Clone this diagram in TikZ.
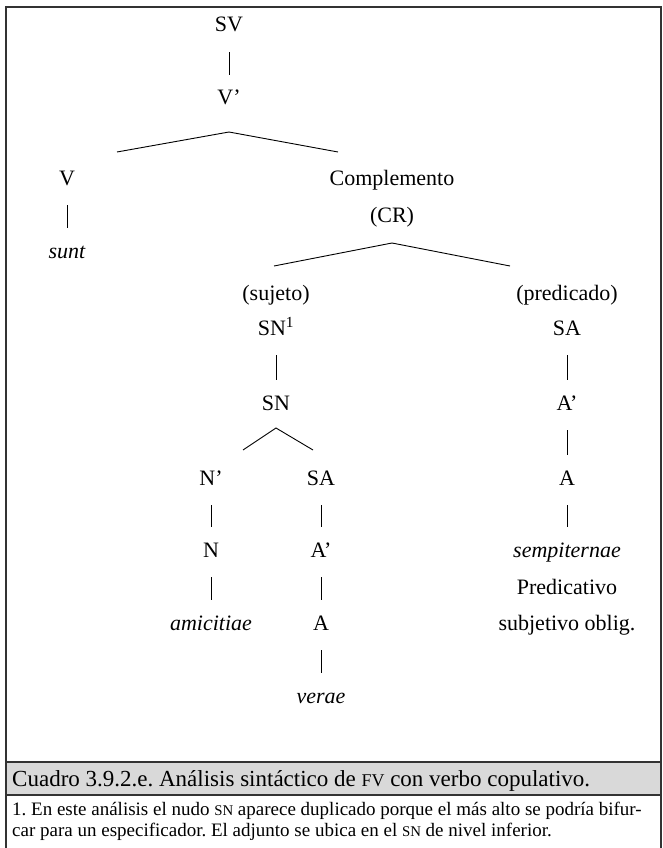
\documentclass[tikz,border=0pt]{standalone}
\usepackage{fontspec}
\usepackage{graphicx}
\setmainfont{Liberation Serif}
\newcommand{\smc}[1]{\scalebox{0.78}{#1}}
\definecolor{capgray}{HTML}{D9D9D9}
\definecolor{framegray}{HTML}{333333}
\frenchspacing
\begin{document}
\begin{tikzpicture}[x=1pt,y=-1pt,
  tn/.style={font=\fontsize{22}{26}\selectfont, inner sep=0pt, text height=15pt, text depth=5pt, minimum height=50pt},
  tl/.style={line width=0.9pt, black},
  br/.style={line width=0.9pt, black}]
\useasboundingbox (0,0) rectangle (662,848);
% frame
\draw[framegray, line width=1.4pt] (6,848) -- (6,7) -- (661,7) -- (661,848);
\draw[framegray, line width=1.2pt, fill=capgray] (6,762) rectangle (661,795);
\node[anchor=base west, inner sep=0pt, font=\fontsize{23}{27}\selectfont] (cap) at (12,786)
  {Cuadro 3.9.2.e. Análisis sintáctico de \smc{FV} con verbo copulativo.};
\node[anchor=base west, inner sep=0pt, font=\fontsize{19}{22}\selectfont, align=left] (fn1) at (12,815)
  {1. En este análisis el nudo \smc{SN} aparece duplicado porque el más alto se podría bifur-};
\node[anchor=base west, inner sep=0pt, font=\fontsize{19}{22}\selectfont, align=left] (fn2) at (12,836)
  {car para un especificador. El adjunto se ubica en el \smc{SN} de nivel inferior.};
% tree nodes
\node[tn] (sv) at (229,27) {SV};
\node[tn] (vp) at (229,100) {V’};
\node[tn] (v) at (67,180) {V};
\node[tn] (sunt) at (67,253) {\itshape sunt};
\node[tn] (comp) at (392,180) {Complemento};
\node[tn] (cr) at (392,217) {(CR)};
\node[tn] (suj) at (276,295) {(sujeto)};
\node[tn] (sn1) at (276,330) {SN\textsuperscript{1}};
\node[tn] (sn) at (276,405) {SN};
\node[tn] (np) at (211,480) {N’};
\node[tn] (n) at (211,552) {N};
\node[tn] (amic) at (211,625) {\itshape amicitiae};
\node[tn] (sa) at (321,480) {SA};
\node[tn] (ap) at (321,552) {A’};
\node[tn] (a) at (321,625) {A};
\node[tn] (verae) at (321,698) {\itshape verae};
\node[tn] (pred) at (567,295) {(predicado)};
\node[tn] (sa2) at (567,330) {SA};
\node[tn] (ap2) at (567,405) {A’};
\node[tn] (a2) at (567,480) {A};
\node[tn] (semp) at (567,552) {\itshape sempiternae};
\node[tn] (predic) at (567,589) {Predicativo};
\node[tn] (subj) at (567,625) {subjetivo oblig.};
% unary connectors
\draw[tl] (sv) -- (vp);
\draw[tl] (v) -- (sunt);
\draw[tl] (sn1) -- (sn);
\draw[tl] (np) -- (n);
\draw[tl] (n) -- (amic);
\draw[tl] (sa) -- (ap);
\draw[tl] (ap) -- (a);
\draw[tl] (a) -- (verae);
\draw[tl] (sa2) -- (ap2);
\draw[tl] (ap2) -- (a2);
\draw[tl] (a2) -- (semp);
% branching
\coordinate (b1) at (229,132);
\coordinate (b1l) at (117,152);
\coordinate (b1r) at (338,152);
\draw[br] (b1l) -- (b1) -- (b1r);
\coordinate (b2) at (392,243);
\coordinate (b2l) at (274,266);
\coordinate (b2r) at (510,266);
\draw[br] (b2l) -- (b2) -- (b2r);
\coordinate (b3) at (276,428);
\coordinate (b3l) at (243,450);
\coordinate (b3r) at (313,450);
\draw[br] (b3l) -- (b3) -- (b3r);
\end{tikzpicture}
\end{document}
